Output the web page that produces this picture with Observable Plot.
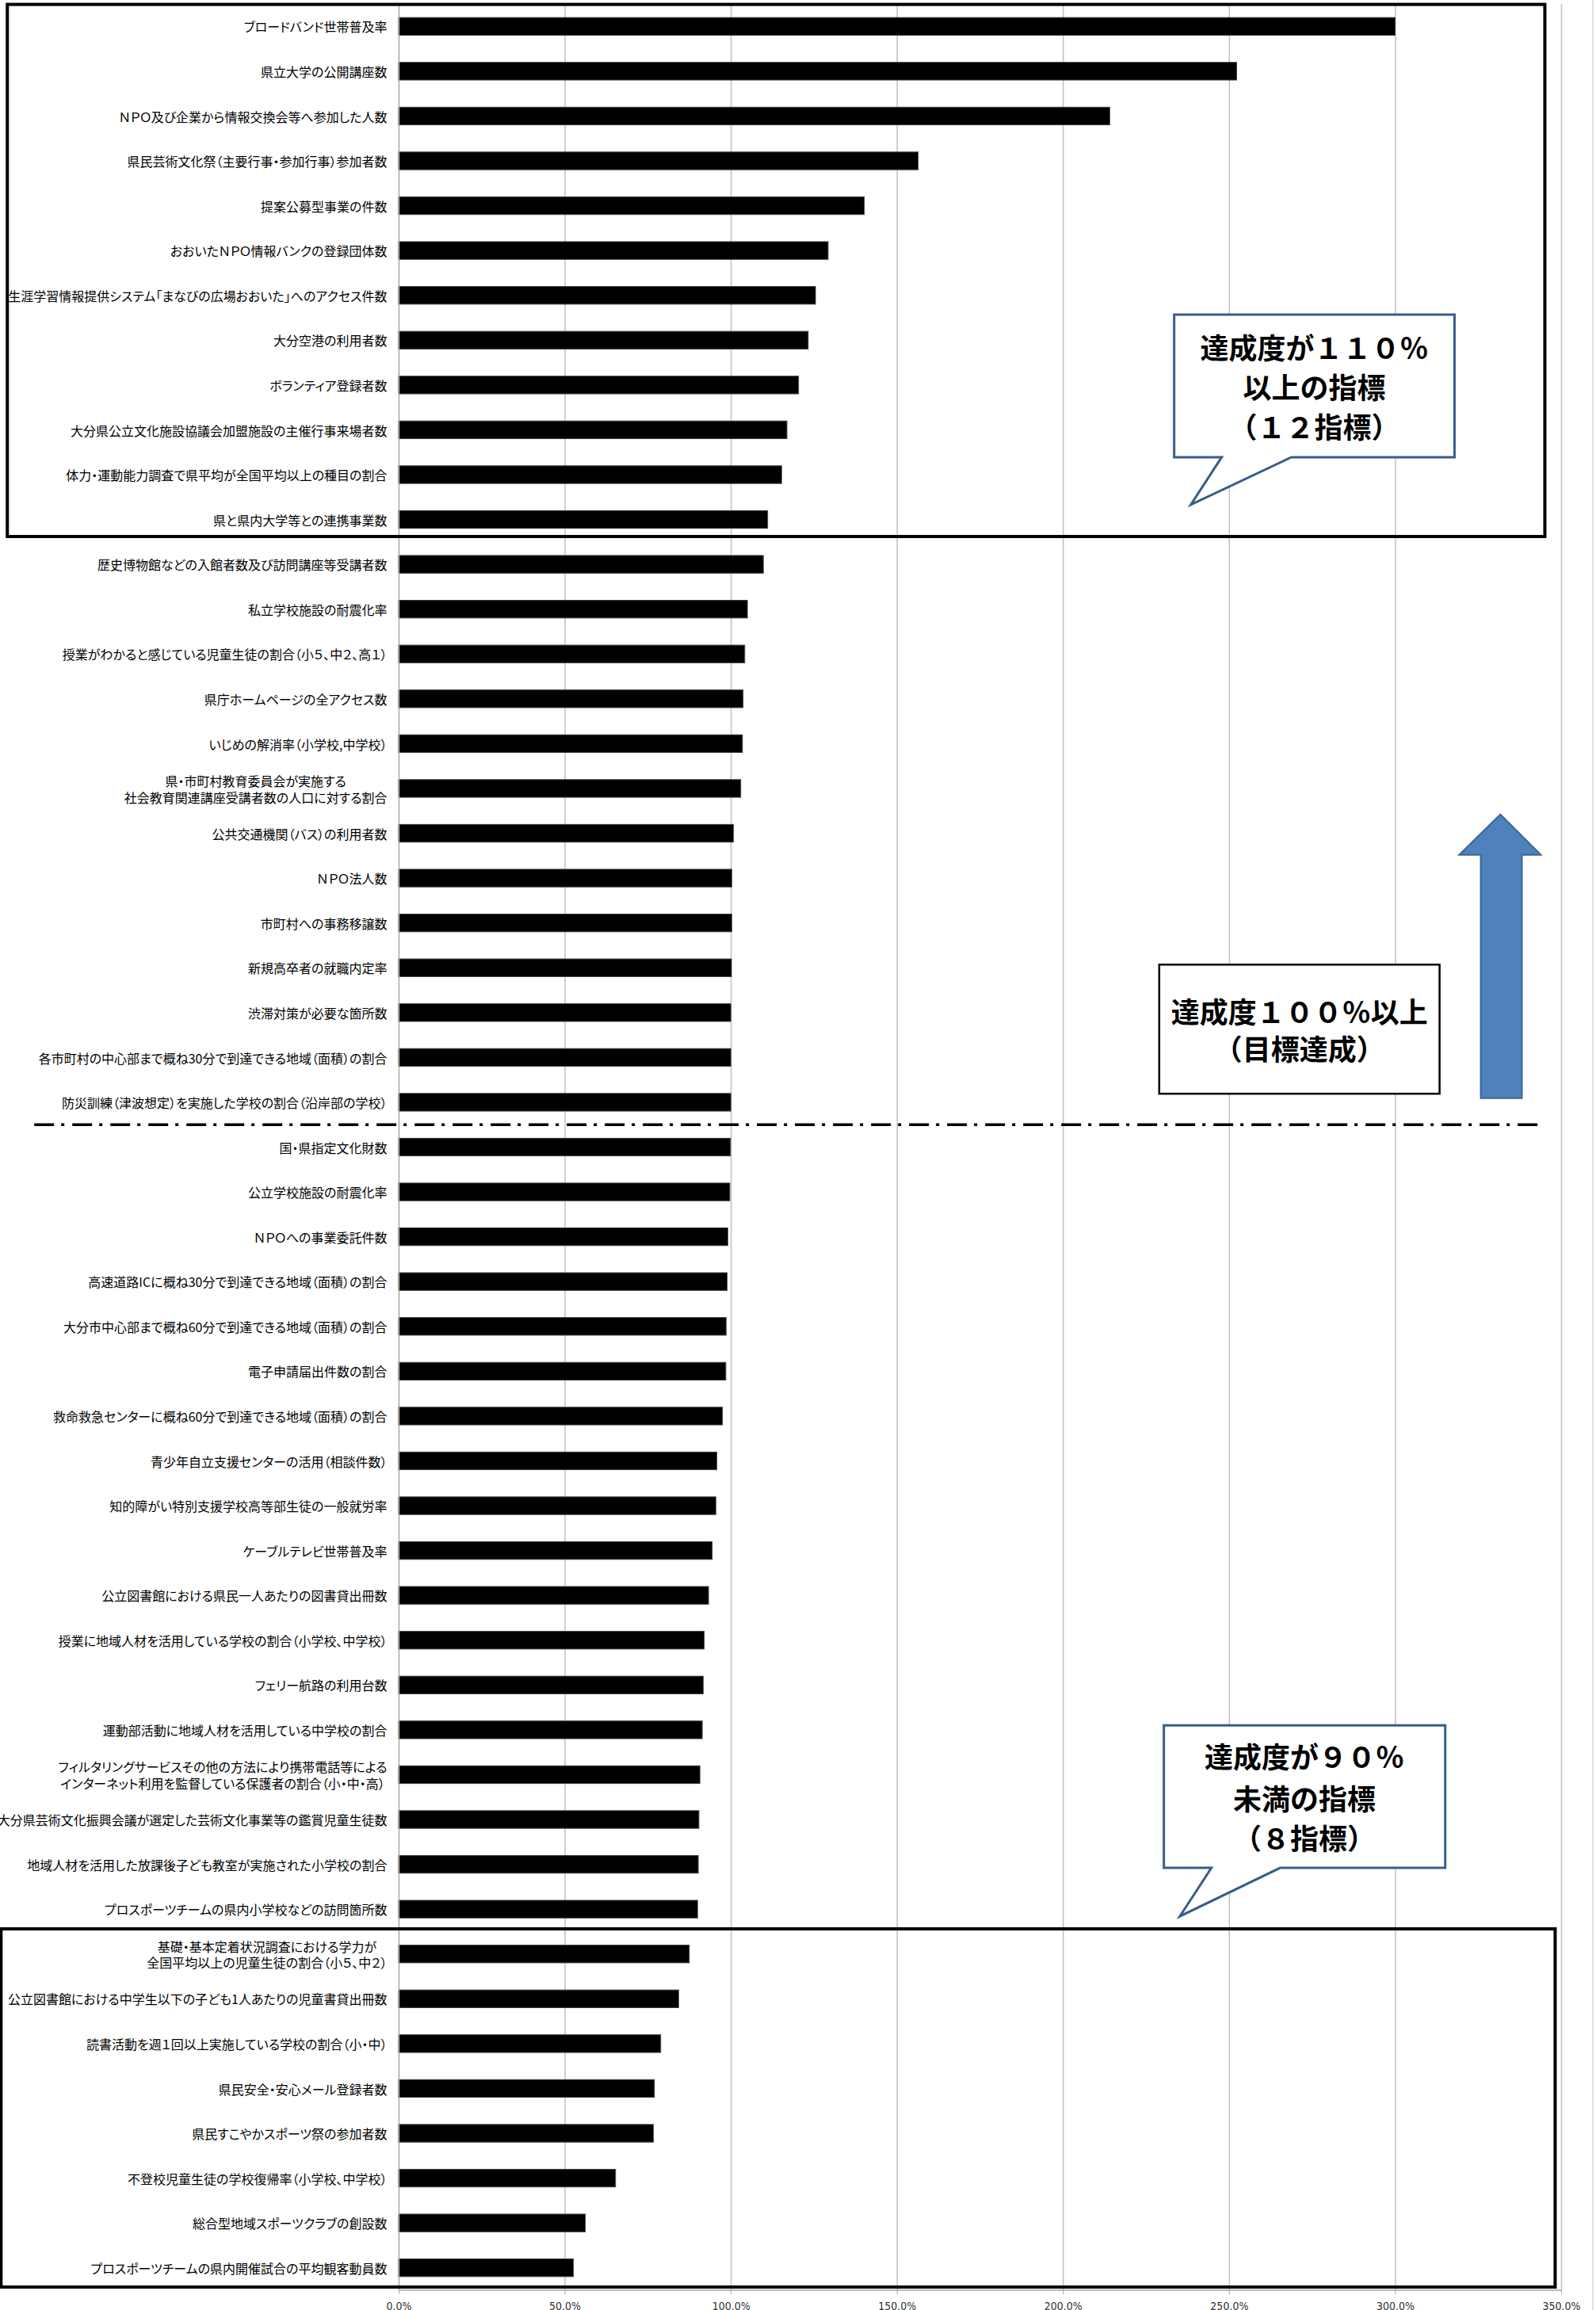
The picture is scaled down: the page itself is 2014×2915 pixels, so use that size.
<!DOCTYPE html>
<html><head><meta charset="utf-8">
<script src="https://cdn.jsdelivr.net/npm/d3@7"></script>
<script src="https://cdn.jsdelivr.net/npm/@observablehq/plot@0.6"></script>
<style>
html,body{margin:0;padding:0;background:#fff;overflow:hidden;}
#chart svg{display:block;}
</style></head><body><div id="chart"></div>
<script>
const categories = [
  "ブロードバンド世帯普及率",
  "県立大学の公開講座数",
  "ＮＰＯ及び企業から情報交換会等へ参加した人数",
  "県民芸術文化祭（主要行事・参加行事）参加者数",
  "提案公募型事業の件数",
  "おおいたＮＰＯ情報バンクの登録団体数",
  "生涯学習情報提供システム「まなびの広場おおいた」へのアクセス件数",
  "大分空港の利用者数",
  "ボランティア登録者数",
  "大分県公立文化施設協議会加盟施設の主催行事来場者数",
  "体力・運動能力調査で県平均が全国平均以上の種目の割合",
  "県と県内大学等との連携事業数",
  "歴史博物館などの入館者数及び訪問講座等受講者数",
  "私立学校施設の耐震化率",
  "授業がわかると感じている児童生徒の割合（小５、中２、高１）",
  "県庁ホームページの全アクセス数",
  "いじめの解消率（小学校,中学校）",
  "県・市町村教育委員会が実施する\n社会教育関連講座受講者数の人口に対する割合",
  "公共交通機関（バス）の利用者数",
  "ＮＰＯ法人数",
  "市町村への事務移譲数",
  "新規高卒者の就職内定率",
  "渋滞対策が必要な箇所数",
  "各市町村の中心部まで概ね30分で到達できる地域（面積）の割合",
  "防災訓練（津波想定）を実施した学校の割合（沿岸部の学校）",
  "国・県指定文化財数",
  "公立学校施設の耐震化率",
  "ＮＰＯへの事業委託件数",
  "高速道路ICに概ね30分で到達できる地域（面積）の割合",
  "大分市中心部まで概ね60分で到達できる地域（面積）の割合",
  "電子申請届出件数の割合",
  "救命救急センターに概ね60分で到達できる地域（面積）の割合",
  "青少年自立支援センターの活用（相談件数）",
  "知的障がい特別支援学校高等部生徒の一般就労率",
  "ケーブルテレビ世帯普及率",
  "公立図書館における県民一人あたりの図書貸出冊数",
  "授業に地域人材を活用している学校の割合（小学校、中学校）",
  "フェリー航路の利用台数",
  "運動部活動に地域人材を活用している中学校の割合",
  "フィルタリングサービスその他の方法により携帯電話等による\nインターネット利用を監督している保護者の割合（小・中・高）",
  "大分県芸術文化振興会議が選定した芸術文化事業等の鑑賞児童生徒数",
  "地域人材を活用した放課後子ども教室が実施された小学校の割合",
  "プロスポーツチームの県内小学校などの訪問箇所数",
  "基礎・基本定着状況調査における学力が\n全国平均以上の児童生徒の割合（小５、中２）",
  "公立図書館における中学生以下の子ども1人あたりの児童書貸出冊数",
  "読書活動を週１回以上実施している学校の割合（小・中）",
  "県民安全・安心メール登録者数",
  "県民すこやかスポーツ祭の参加者数",
  "不登校児童生徒の学校復帰率（小学校、中学校）",
  "総合型地域スポーツクラブの創設数",
  "プロスポーツチームの県内開催試合の平均観客動員数"
];
const values = [
  300.0, 252.3, 214.1, 156.4, 140.2, 129.3, 125.5, 123.3, 120.4, 116.9, 115.3, 111.1,
  109.8, 105.0, 104.2, 103.7, 103.5, 103.0, 100.8, 100.3, 100.3, 100.2, 100.0, 100.0, 100.0,
  99.9, 99.7, 99.1, 98.9, 98.6, 98.5, 97.5, 95.8, 95.5, 94.4, 93.3, 92.0, 91.7, 91.4, 90.7, 90.4, 90.2, 90.0,
  87.5, 84.3, 78.9, 77.0, 76.7, 65.3, 56.2, 52.6
];
const xTicks = [0, 50, 100, 150, 200, 250, 300, 350];
const xTickLabels = ["0.0%", "50.0%", "100.0%", "150.0%", "200.0%", "250.0%", "300.0%", "350.0%"];
const calloutTop = ["達成度が１１０％", "以上の指標", "（１２指標）"];
const calloutMid = ["達成度１００％以上", "（目標達成）"];
const calloutBottom = ["達成度が９０％", "未満の指標", "（８指標）"];

const data = categories.map((c, i) => ({category: c, value: values[i]}));
const W = 2014, H = 2930;
const cjk = "'Noto Sans CJK JP', 'Noto Sans', sans-serif";

const plot = Plot.plot({
  width: W, height: H,
  marginLeft: 503, marginRight: 44, marginTop: 5, marginBottom: H - 2890,
  style: {background: "white", color: "black", fontFamily: cjk, overflow: "visible"},
  x: {domain: [0, 350], ticks: xTicks},
  y: {domain: categories, paddingInner: 0.606, paddingOuter: 0.303, round: false, label: null},
  marks: [
    Plot.gridX(xTicks.filter(d => d > 0), {stroke: "#c0c0c0", strokeOpacity: 1, strokeWidth: 1.5}),
    Plot.barX(data, {x: "value", y: "category", fill: "#000", stroke: "#3a3a3a", strokeWidth: 1}),
    Plot.ruleX([0], {stroke: "#a6a6a6", strokeWidth: 1.5}),
    Plot.axisY({tickSize: 0, tickPadding: 15, fontSize: 16, lineHeight: 1.3, label: null, textOverflow: null}),
    Plot.axisX(xTicks, {tickSize: 5, stroke: "#a6a6a6", tickPadding: 10, fontSize: 14, label: null,
      tickFormat: d => xTickLabels[xTicks.indexOf(d)]})
  ]
});
document.getElementById("chart").appendChild(plot);

const svg = d3.select(plot);
svg.selectAll('g[aria-label="x-axis tick label"]')
  .attr("font-family", "'DejaVu Sans Condensed', 'Liberation Sans Narrow', sans-serif")
  .attr("fill", "#333");
svg.selectAll('g[aria-label="y-axis tick label"]')
  .attr("fill", "#000")
  .style("font-feature-settings", "'palt'");

// center multi-line category labels relative to each other
svg.selectAll('g[aria-label="y-axis tick label"] text').each(function() {
  const tspans = [...this.querySelectorAll("tspan")];
  if (tspans.length > 1) {
    const widths = tspans.map(t => t.getComputedTextLength());
    const m = Math.max(...widths);
    tspans.forEach((t, i) => t.setAttribute("x", -(m - widths[i]) / 2));
  }
});

// annotation layer positioned through the plot's scales
const xs = plot.scale("x"), ys = plot.scale("y");
const X = v => xs.apply(v);
const row0 = ys.apply(categories[0]) + ys.bandwidth / 2 - ys.step / 2;
const Y = f => row0 + f * ys.step;
const g = svg.append("g").attr("class", "annotations");

// outer chart border (right)
g.append("line").attr("x1", W - 4).attr("x2", W - 4).attr("y1", 0).attr("y2", H)
  .attr("stroke", "#d9d9d9").attr("stroke-width", 1.5);
// value axis line
g.append("line").attr("x1", X(0)).attr("x2", X(350)).attr("y1", Y(categories.length)).attr("y2", Y(categories.length))
  .attr("stroke", "#a6a6a6").attr("stroke-width", 1.5);

// group boxes
g.append("rect").attr("x", X(-117.8)).attr("y", Y(0.01)).attr("width", X(345.1) - X(-117.8)).attr("height", Y(11.88) - Y(0.01))
  .attr("fill", "none").attr("stroke", "#000").attr("stroke-width", 4);
g.append("rect").attr("x", X(-119.7)).attr("y", Y(42.94)).attr("width", X(348.2) - X(-119.7)).attr("height", Y(50.93) - Y(42.94))
  .attr("fill", "none").attr("stroke", "#000").attr("stroke-width", 4);

// dash-dot separator at 100%
g.append("line").attr("x1", X(-109.7)).attr("x2", X(343.2)).attr("y1", Y(25)).attr("y2", Y(25))
  .attr("stroke", "#000").attr("stroke-width", 3.5).attr("stroke-dasharray", "25 9 4 10");

function callout(x1, x2, y1, y2, b1, b2, tx, ty, lines, lineYs, cx) {
  const pts = [[X(x1), Y(y1)], [X(x2), Y(y1)], [X(x2), Y(y2)], [X(b2), Y(y2)], [X(tx), Y(ty)], [X(b1), Y(y2)], [X(x1), Y(y2)]];
  g.append("path").attr("d", "M" + pts.map(p => p.join(",")).join("L") + "Z")
    .attr("fill", "#fff").attr("stroke", "#385D8A").attr("stroke-width", 3).attr("stroke-linejoin", "miter");
  lines.forEach((t, i) => {
    g.append("text").attr("x", X(cx)).attr("y", Y(lineYs[i])).text(t)
      .attr("text-anchor", "middle").attr("dominant-baseline", "central")
      .attr("font-family", cjk).attr("font-weight", 700).attr("font-size", 36).attr("fill", "#000");
  });
}
callout(233.5, 317.9, 6.93, 10.11, 247.8, 268.8, 238.5, 11.17, calloutTop, [7.63, 8.52, 9.40], 275.7);
callout(230.4, 315.1, 38.4, 41.58, 244.7, 265.4, 235.2, 42.66, calloutBottom, [39.07, 40.0, 40.89], 272.7);

// middle plain box
g.append("rect").attr("x", X(229.0)).attr("y", Y(21.43)).attr("width", X(313.4) - X(229.0)).attr("height", Y(24.31) - Y(21.43))
  .attr("fill", "#fff").attr("stroke", "#000").attr("stroke-width", 2.5);
calloutMid.forEach((t, i) => {
  g.append("text").attr("x", X(271.2)).attr("y", Y([22.45, 23.28][i])).text(t)
    .attr("text-anchor", "middle").attr("dominant-baseline", "central")
    .attr("font-family", cjk).attr("font-weight", 700).attr("font-size", 36).attr("fill", "#000");
});

// upward arrow
const arrow = [[331.7, 18.08], [343.9, 18.98], [338.2, 18.98], [338.2, 24.41], [325.8, 24.41], [325.8, 18.98], [319.3, 18.98]];
g.append("path").attr("d", "M" + arrow.map(([v, f]) => X(v) + "," + Y(f)).join("L") + "Z")
  .attr("fill", "#4F81BD").attr("stroke", "#3A679A").attr("stroke-width", 2);
</script>
</body></html>
